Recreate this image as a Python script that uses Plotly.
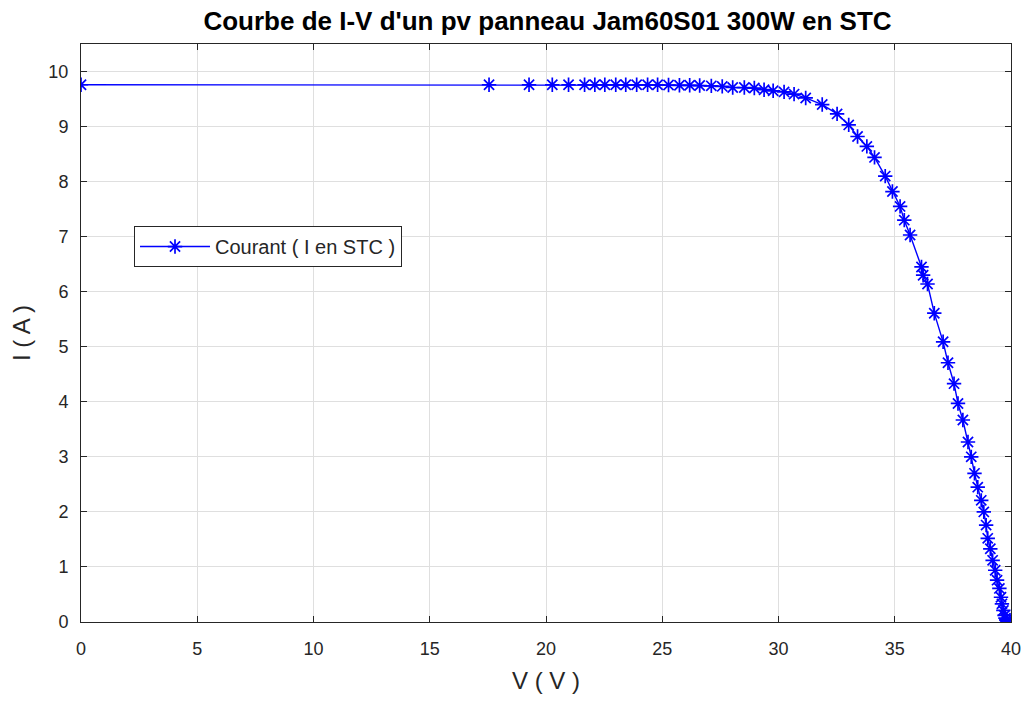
import plotly.graph_objects as go

# I-V curve of a Jam60S01 300W panel under STC
tension_v = [
    0.0, 17.55, 19.27, 20.27, 20.97, 21.66, 22.10, 22.53, 23.00, 23.43,
    23.90, 24.37, 24.80, 25.27, 25.74, 26.18, 26.61, 27.11, 27.58, 28.03,
    28.53, 28.96, 29.38, 29.77, 30.24, 30.67, 31.17, 31.88, 32.52, 33.02,
    33.40, 33.80, 34.13, 34.59, 34.90, 35.23, 35.41, 35.66, 36.15, 36.22,
    36.41, 36.70, 37.08, 37.29, 37.55, 37.72, 37.93, 38.15, 38.29, 38.43,
    38.57, 38.72, 38.83, 38.93, 39.00, 39.11, 39.21, 39.32, 39.40, 39.50,
    39.57, 39.61, 39.67, 39.72, 39.76, 39.80, 39.83, 39.85,
]
courant_a = [
    9.76, 9.76, 9.76, 9.76, 9.76, 9.76, 9.76, 9.76, 9.76, 9.76,
    9.76, 9.76, 9.76, 9.755, 9.75, 9.75, 9.745, 9.74, 9.73, 9.71,
    9.71, 9.70, 9.67, 9.65, 9.63, 9.59, 9.52, 9.40, 9.23, 9.03,
    8.82, 8.64, 8.44, 8.10, 7.82, 7.55, 7.30, 7.03, 6.45, 6.30,
    6.14, 5.61, 5.09, 4.71, 4.33, 3.97, 3.67, 3.27, 3.00, 2.70,
    2.45, 2.21, 2.00, 1.76, 1.52, 1.33, 1.12, 0.94, 0.76, 0.61,
    0.45, 0.33, 0.21, 0.12, 0.07, 0.04, 0.02, 0.0,
]

x_ticks = [0, 5, 10, 15, 20, 25, 30, 35, 40]
y_ticks = [0, 1, 2, 3, 4, 5, 6, 7, 8, 9, 10]

axis_color = "#262626"
grid_color = "#dfdfdf"
font_family = "Liberation Sans, Arial, sans-serif"

fig = go.Figure()
fig.add_trace(go.Scatter(
    x=tension_v,
    y=courant_a,
    mode="lines+markers",
    name="Courant ( I en STC )",
    line=dict(color="#0000ff", width=1.4),
    marker=dict(symbol="asterisk-open", size=12,
                line=dict(color="#0000ff", width=1.7)),
))

axis_common = dict(
    showline=True,
    linecolor=axis_color,
    linewidth=1,
    mirror="allticks",
    ticks="inside",
    ticklen=6,
    tickcolor=axis_color,
    showgrid=True,
    gridcolor=grid_color,
    gridwidth=1,
    zeroline=False,
    tickfont=dict(family=font_family, size=18, color=axis_color),
)

fig.update_xaxes(
    range=[0, 40],
    tickvals=x_ticks,
    ticklabelstandoff=10,
    title=dict(text="V ( V )", font=dict(family=font_family, size=24, color=axis_color),
               standoff=14),
    **axis_common,
)
fig.update_yaxes(
    range=[0, 10.5],
    tickvals=y_ticks,
    ticklabelstandoff=8,
    title=dict(text="I ( A )", font=dict(family=font_family, size=24, color=axis_color),
               standoff=10),
    **axis_common,
)

fig.update_layout(
    width=1033,
    height=702,
    margin=dict(l=81, r=18, t=44, b=80),
    paper_bgcolor="white",
    plot_bgcolor="white",
    title=dict(
        text="<b>Courbe de I-V d'un pv panneau Jam60S01 300W en STC</b>",
        x=0.53, xanchor="center", y=0.970, yanchor="middle",
        font=dict(family=font_family, size=26, color="black"),
    ),
    showlegend=True,
    legend=dict(
        x=0.057, y=0.685, xanchor="left", yanchor="top",
        bgcolor="white",
        bordercolor=axis_color,
        borderwidth=1,
        font=dict(family=font_family, size=20, color=axis_color),
        itemwidth=70,
    ),
)

fig.write_html("out.html")
